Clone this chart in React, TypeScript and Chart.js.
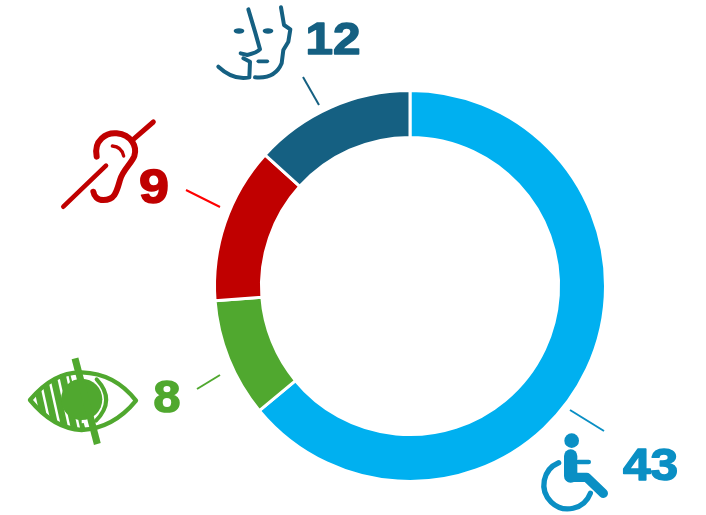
import React, { useEffect, useRef } from "react";
import { Chart, registerables } from "chart.js";

Chart.register(...registerables);

const categories = ["Motor", "Visual", "Hearing", "Cognitive"];
const shownCounts = ["43", "8", "9", "12"];
// Arc sizes (they are not proportional to the printed counts)
const arcSizes = [64, 9.8, 12.9, 13.3];
const sliceColors = ["#00B0F0", "#50A82F", "#C00000", "#156082"];
const labelColors = ["#0A8FC4", "#50A82F", "#C00000", "#156082"];
const leaderColors = ["#0A8FC4", "#50A82F", "#FF0000", "#156082"];
const labelX = [650.5, 167, 154, 333];
const labelY = [480, 412, 203, 54];
const labelSizes = [45, 44, 49, 45];
const leaders = [
  [570, 410, 604, 431],
  [197, 389, 220, 375],
  [186, 190, 220, 207],
  [303, 77, 319, 105],
];

type Ctx = CanvasRenderingContext2D;

function zoomed(ctx: Ctx, ox: number, oy: number, draw: () => void) {
  ctx.save();
  ctx.translate(ox, oy);
  ctx.scale(1 / 3, 1 / 3);
  ctx.lineCap = "round";
  ctx.lineJoin = "round";
  draw();
  ctx.restore();
}

function strokePath(ctx: Ctx, d: string, color: string, width: number) {
  ctx.strokeStyle = color;
  ctx.lineWidth = width;
  ctx.stroke(new Path2D(d));
}

function drawFace(ctx: Ctx, c: string) {
  zoomed(ctx, 0, 0, () => {
    strokePath(ctx, "M745 28 L765 95 L780 148 Q772 158 742 165 L722 160", c, 12);
    strokePath(ctx, "M655 200 Q700 242 748 232 L750 185 L730 175", c, 12);
    strokePath(ctx, "M775 184 L802 184", c, 11);
    strokePath(ctx, "M843 22 L852 75 L871 88 L865 125 L850 150 L845 190 Q825 238 765 232", c, 12);
    ctx.fillStyle = c;
    ctx.beginPath();
    ctx.ellipse(717, 93, 16, 8, 0, 0, Math.PI * 2);
    ctx.ellipse(804, 93, 16, 8, 0, 0, Math.PI * 2);
    ctx.fill();
  });
}

function drawEar(ctx: Ctx, c: string) {
  zoomed(ctx, 0, 0, () => {
    strokePath(ctx, "M460 366 L400 418", c, 15);
    strokePath(ctx, "M318 497 L190 620", c, 14);
    strokePath(
      ctx,
      "M290 470 C280 420 320 397 350 400 C395 405 412 440 403 468 C395 490 368 510 360 540 C350 575 345 600 310 600 C292 600 282 588 280 575",
      c,
      18,
    );
    strokePath(ctx, "M337 438 Q365 440 371 468", c, 10);
  });
}

function drawEye(ctx: Ctx, c: string) {
  zoomed(ctx, 0, 340, () => {
    const lens = "M90 180 Q160 95 245 97 Q345 100 408 182 Q340 265 245 270 Q160 265 90 180 Z";
    ctx.save();
    ctx.clip(new Path2D(lens));
    ctx.strokeStyle = c;
    ctx.lineWidth = 20;
    ctx.lineCap = "butt";
    [112, 140, 168, 196, 224].forEach((x) => {
      ctx.beginPath();
      ctx.moveTo(x - 12, 90);
      ctx.lineTo(x + 30, 280);
      ctx.stroke();
    });
    ctx.restore();
    ctx.fillStyle = "#FFFFFF";
    ctx.beginPath();
    ctx.arc(245, 178, 72, -Math.PI / 2, Math.PI / 2);
    ctx.fill();
    strokePath(ctx, "M290 118 Q348 180 288 242", c, 12);
    ctx.lineCap = "butt";
    strokePath(ctx, "M225 95 L275 275", "#FFFFFF", 32);
    ctx.fillStyle = c;
    ctx.beginPath();
    ctx.arc(245, 178, 62, 0, Math.PI * 2);
    ctx.fill();
    strokePath(ctx, lens, c, 13);
    strokePath(ctx, "M225 55 L292 312", c, 21);
  });
}

function drawChair(ctx: Ctx, c: string) {
  zoomed(ctx, 520, 390, () => {
    ctx.fillStyle = c;
    ctx.beginPath();
    ctx.arc(155, 152, 22, 0, Math.PI * 2);
    ctx.fill();
    strokePath(ctx, "M152 198 L152 258", c, 40);
    strokePath(ctx, "M175 216 L206 216", c, 14);
    strokePath(ctx, "M150 262 L200 262 L250 310", c, 28);
    strokePath(ctx, "M116 218 A72 72 0 1 0 211 310", c, 16);
  });
}

const iconDrawers = [drawChair, drawEye, drawEar, drawFace];

const annotations = {
  id: "annotations",
  afterDatasetsDraw(chart: Chart) {
    const ctx = chart.ctx as Ctx;
    ctx.save();
    shownCounts.forEach((text, i) => {
      const [x1, y1, x2, y2] = leaders[i];
      ctx.strokeStyle = leaderColors[i];
      ctx.lineWidth = 2;
      ctx.beginPath();
      ctx.moveTo(x1, y1);
      ctx.lineTo(x2, y2);
      ctx.stroke();
      ctx.save();
      ctx.translate(labelX[i], labelY[i]);
      ctx.scale(1.1, 1);
      ctx.font = `bold ${labelSizes[i]}px "Liberation Sans", Arial, sans-serif`;
      ctx.textAlign = "center";
      ctx.textBaseline = "alphabetic";
      ctx.fillStyle = labelColors[i];
      ctx.strokeStyle = labelColors[i];
      ctx.lineWidth = 1.5;
      ctx.lineJoin = "round";
      ctx.fillText(text, 0, 0);
      ctx.strokeText(text, 0, 0);
      ctx.restore();
      iconDrawers[i](ctx, labelColors[i]);
    });
    ctx.restore();
  },
};

export default function App() {
  const ref = useRef<HTMLCanvasElement>(null);
  useEffect(() => {
    if (!ref.current) return;
    const chart = new Chart(ref.current, {
      type: "doughnut",
      data: {
        labels: categories,
        datasets: [
          {
            data: arcSizes,
            backgroundColor: sliceColors,
            borderColor: "#FFFFFF",
            borderWidth: 3,
            radius: 195.5,
            cutout: "76%",
          } as any,
        ],
      },
      options: {
        responsive: false,
        animation: false,
        layout: { padding: { left: 114, right: 0, top: 57, bottom: 0 } },
        plugins: { legend: { display: false }, tooltip: { enabled: false } },
      },
      plugins: [annotations],
    });
    return () => chart.destroy();
  }, []);
  return (
    <div style={{ position: "absolute", left: 0, top: 0, width: 706, height: 515, background: "#fff" }}>
      <canvas ref={ref} width={706} height={515} style={{ display: "block" }} />
    </div>
  );
}
